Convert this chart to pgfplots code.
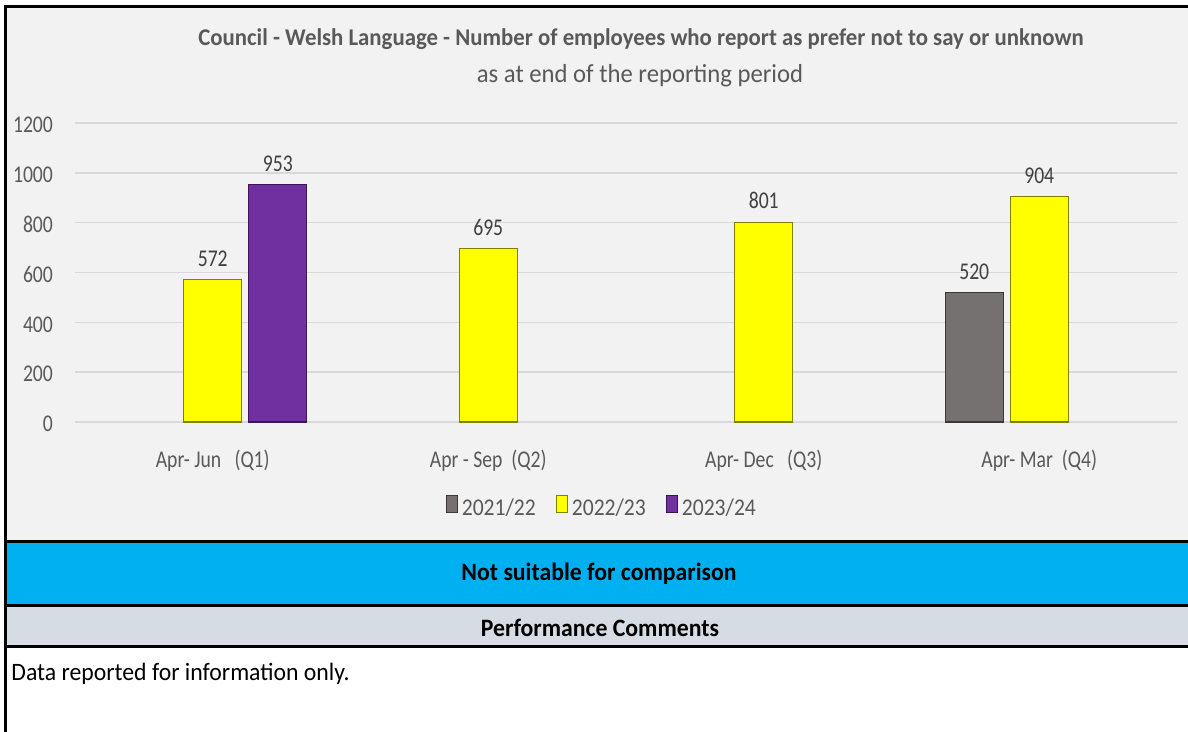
\documentclass[border=0pt]{standalone}
\usepackage{fontspec}
\setmainfont{Carlito}[FakeStretch=0.95]
\newfontfamily\condnum{Carlito}[FakeStretch=0.82]
\newfontfamily\condleg{Carlito}[FakeStretch=0.9]
\usepackage{pgfplots}
\pgfplotsset{compat=1.18}

\definecolor{chartbg}{HTML}{F2F2F2}
\definecolor{gridc}{HTML}{D9D9D9}
\definecolor{txt}{HTML}{595959}
\definecolor{lbl}{HTML}{404040}
\definecolor{ylw}{HTML}{FFFF00}
\definecolor{ylwdk}{HTML}{7F7F00}
\definecolor{prp}{HTML}{7030A0}
\definecolor{prpdk}{HTML}{3B1656}
\definecolor{gry}{HTML}{767171}
\definecolor{grydk}{HTML}{3A3838}
\definecolor{band}{HTML}{00B0F0}
\definecolor{band2}{HTML}{D6DCE4}

\begin{document}
\begin{tikzpicture}[x=0.5pt,y=-0.5pt]
\useasboundingbox (0,0) rectangle (1188,732);
\fill[white] (0,0) rectangle (1188,732);
\fill[chartbg] (5,6) rectangle (1188,541);
\fill[band] (5,541) rectangle (1188,605);
\fill[band2] (5,605) rectangle (1188,646);

% titles
\node[anchor=base, text=txt, font=\fontsize{12}{14}\selectfont\bfseries]
  at (641,46) {Council - Welsh Language - Number of employees who report as prefer not to say or unknown};
\node[anchor=base, text=txt, font=\fontsize{13}{15}\selectfont]
  at (640,83) {as at end of the reporting period};

\coordinate (A) at (75,422);
\begin{axis}[
    at={(A)}, anchor=south west,
    scale only axis,
    width=551pt, height=149.5pt,
    ybar,
    xmin=-0.5, xmax=3.5,
    ymin=0, ymax=1200,
    xtick={0,1,2,3},
    xticklabels={Apr- Jun\ \ \ (Q1), Apr - Sep\ \ (Q2), Apr- Dec\ \ \ (Q3), Apr- Mar\ \ (Q4)},
    ytick={0,200,...,1200},
    ymajorgrids,
    grid style={gridc, line width=0.75pt},
    axis line style={draw=none},
    major tick length=0pt,
    /pgf/number format/assume math mode=true,
    /pgf/number format/1000 sep={},
    tick label style={font=\condnum\fontsize{12}{14}\selectfont, text=txt},
    yticklabel style={xshift=-7.5pt, yshift=-1pt},
    xticklabel style={yshift=-10.5pt},
    bar width=0.21,
    nodes near coords,
    nodes near coords style={font=\condnum\fontsize{12}{14}\selectfont, text=lbl, yshift=3pt},
    legend columns=3,
    legend style={at={(0.479,-0.29)}, anchor=center, draw=none, fill=none,
        font=\condleg\fontsize{12}{14}\selectfont, text=txt,
        /tikz/every even column/.append style={column sep=8pt}},
    legend image code/.code={\draw[#1, line width=0.5pt] (0pt,-1.5pt) rectangle (5.5pt,7pt);},
]
% 2021/22
\addplot[bar shift=-0.236, fill=gry, draw=grydk, line width=0.6pt]
  coordinates {(3,520)};
% 2022/23
\addplot[bar shift=0, fill=ylw, draw=ylwdk, line width=0.6pt]
  coordinates {(0,572) (1,695) (2,801) (3,904)};
% 2023/24
\addplot[bar shift=0.236, fill=prp, draw=prpdk, line width=0.6pt]
  coordinates {(0,953)};
\legend{2021/22, 2022/23, 2023/24}
\end{axis}

% lower bands
\node[font=\fontsize{12.5}{15}\selectfont\bfseries] at (599,574) {Not suitable for comparison};
\node[font=\fontsize{12.5}{15}\selectfont\bfseries] at (600,628) {Performance Comments};
\node[anchor=base west, inner sep=0pt, font=\fontsize{12.5}{15}\selectfont] at (11,680) {Data reported for information only.};

% frame lines
\draw[line width=1.5pt] (5,6.5) -- (1188,6.5);
\draw[line width=1.5pt] (5.5,5) -- (5.5,732);
\draw[line width=1.5pt] (5,541) -- (1188,541);
\draw[line width=1.5pt] (5,605.5) -- (1188,605.5);
\draw[line width=1.5pt] (5,646.5) -- (1188,646.5);
\end{tikzpicture}
\end{document}
